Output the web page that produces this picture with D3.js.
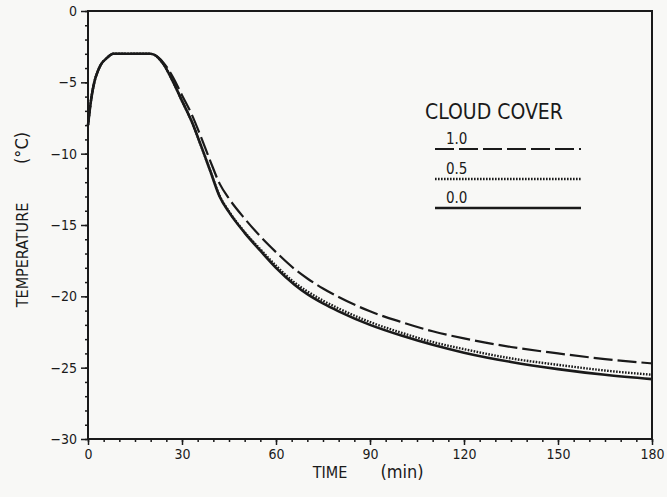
<!DOCTYPE html>
<html lang="en">
<head>
<meta charset="UTF-8">
<title>Temperature vs time, cloud cover</title>
<script src="https://d3js.org/d3.v7.min.js"></script>
<style>
  body { margin: 0; background: #f8f8f6; }
  svg text { font-family: "Liberation Sans Narrow", "DejaVu Sans Condensed", "Liberation Sans", sans-serif; fill: #1a1a1a; }
</style>
</head>
<body>
<div id="chart"></div>
<script>
// time in minutes
const times = [0, 1, 2, 3, 4, 6, 8, 20, 24, 27, 30, 33, 36, 39, 42, 45, 50, 55, 60, 66, 70, 75, 80, 90, 100, 110, 120, 135, 150, 165, 180];

// temperature (deg C) for each cloud cover
const cover00 = [-8.0, -6.2, -5.0, -4.3, -3.8, -3.3, -3.0, -3.0, -3.7, -4.9, -6.3, -7.7, -9.4, -11.2, -13.0, -14.1, -15.55, -16.8, -18.0, -19.2, -19.85, -20.5, -21.05, -22.0, -22.75, -23.4, -23.95, -24.6, -25.1, -25.5, -25.8];
const cover05 = [-8.0, -6.2, -5.0, -4.3, -3.8, -3.3, -3.0, -3.0, -3.7, -4.9, -6.3, -7.7, -9.4, -11.2, -12.95, -14.05, -15.5, -16.7, -17.85, -19.05, -19.65, -20.3, -20.85, -21.8, -22.55, -23.2, -23.7, -24.35, -24.8, -25.2, -25.5];
const cover10 = [-8.0, -6.2, -5.0, -4.3, -3.8, -3.3, -3.0, -3.0, -3.6, -4.6, -5.9, -7.2, -8.8, -10.5, -12.1, -13.15, -14.55, -15.8, -16.9, -18.1, -18.75, -19.45, -20.05, -21.05, -21.8, -22.45, -22.95, -23.55, -24.0, -24.4, -24.7];

const seriesLabels = ["1.0", "0.5", "0.0"];
const xTicks = [0, 30, 60, 90, 120, 150, 180];
const yTicks = [0, -5, -10, -15, -20, -25, -30];

const width = 667, height = 497;
const ink = "#1a1a1a";

const x = d3.scaleLinear().domain([0, 180]).range([88, 652]);
const y = d3.scaleLinear().domain([-30, 0]).range([439, 11]);

const svg = d3.select("#chart").append("svg")
    .attr("width", width)
    .attr("height", height);

// frame
svg.append("rect")
    .attr("x", x(0)).attr("y", y(0))
    .attr("width", x(180) - x(0)).attr("height", y(-30) - y(0))
    .attr("fill", "none").attr("stroke", ink).attr("stroke-width", 2);

// minor ticks
svg.append("g")
    .attr("transform", `translate(0,${y(-30)})`)
    .call(d3.axisBottom(x).tickValues(d3.range(0, 181, 5)).tickSize(3).tickFormat(""))
    .call(g => g.select(".domain").remove());
svg.append("g")
    .attr("transform", `translate(${x(0)},0)`)
    .call(d3.axisLeft(y).tickValues(d3.range(-30, 1, 1)).tickSize(3).tickFormat(""))
    .call(g => g.select(".domain").remove());

// major axes
const fmt = d => d < 0 ? "\u2212" + Math.abs(d) : String(d);
const xAxis = svg.append("g")
    .attr("transform", `translate(0,${y(-30)})`)
    .call(d3.axisBottom(x).tickValues(xTicks).tickSize(6).tickPadding(4).tickFormat(fmt));
const yAxis = svg.append("g")
    .attr("transform", `translate(${x(0)},0)`)
    .call(d3.axisLeft(y).tickValues(yTicks).tickSize(7).tickPadding(4).tickFormat(fmt));
[xAxis, yAxis].forEach(g => {
    g.select(".domain").remove();
    g.selectAll("text").attr("font-size", 14).attr("fill", ink);
});
svg.selectAll("g line").attr("stroke", ink).attr("stroke-width", 1.5);

// curves
const line = d3.line()
    .x((d, i) => x(times[i]))
    .y(d => y(d))
    .curve(d3.curveMonotoneX);

const styles = [
    { data: cover10, dash: "19,5", w: 2.2 },
    { data: cover05, dash: "1.6,1.4", w: 2.4 },
    { data: cover00, dash: null, w: 2.6 }
];

styles.forEach(s => {
    svg.append("path")
        .datum(s.data)
        .attr("fill", "none")
        .attr("stroke", ink)
        .attr("stroke-width", s.w)
        .attr("stroke-dasharray", s.dash)
        .attr("d", line);
});

// legend
svg.append("text")
    .attr("x", 425).attr("y", 119)
    .attr("font-size", 21)
    .text("CLOUD COVER");

const legendY = [149, 179, 208];
styles.forEach((s, i) => {
    svg.append("line")
        .attr("x1", 435).attr("x2", 581)
        .attr("y1", legendY[i]).attr("y2", legendY[i])
        .attr("stroke", ink)
        .attr("stroke-width", s.w)
        .attr("stroke-dasharray", s.dash);
    svg.append("text")
        .attr("x", 446).attr("y", legendY[i] - 5)
        .attr("font-size", 15)
        .text(seriesLabels[i]);
});

// axis titles
svg.append("text")
    .attr("x", 330).attr("y", 478)
    .attr("text-anchor", "middle")
    .attr("font-size", 16)
    .text("TIME");
svg.append("text")
    .attr("x", 402).attr("y", 478)
    .attr("text-anchor", "middle")
    .attr("font-size", 18)
    .text("(min)");

svg.append("text")
    .attr("transform", "translate(28,255) rotate(-90)")
    .attr("text-anchor", "middle")
    .attr("font-size", 16)
    .text("TEMPERATURE");
svg.append("text")
    .attr("transform", "translate(28,148) rotate(-90)")
    .attr("text-anchor", "middle")
    .attr("font-size", 18)
    .text("(\u00B0C)");
</script>
</body>
</html>
